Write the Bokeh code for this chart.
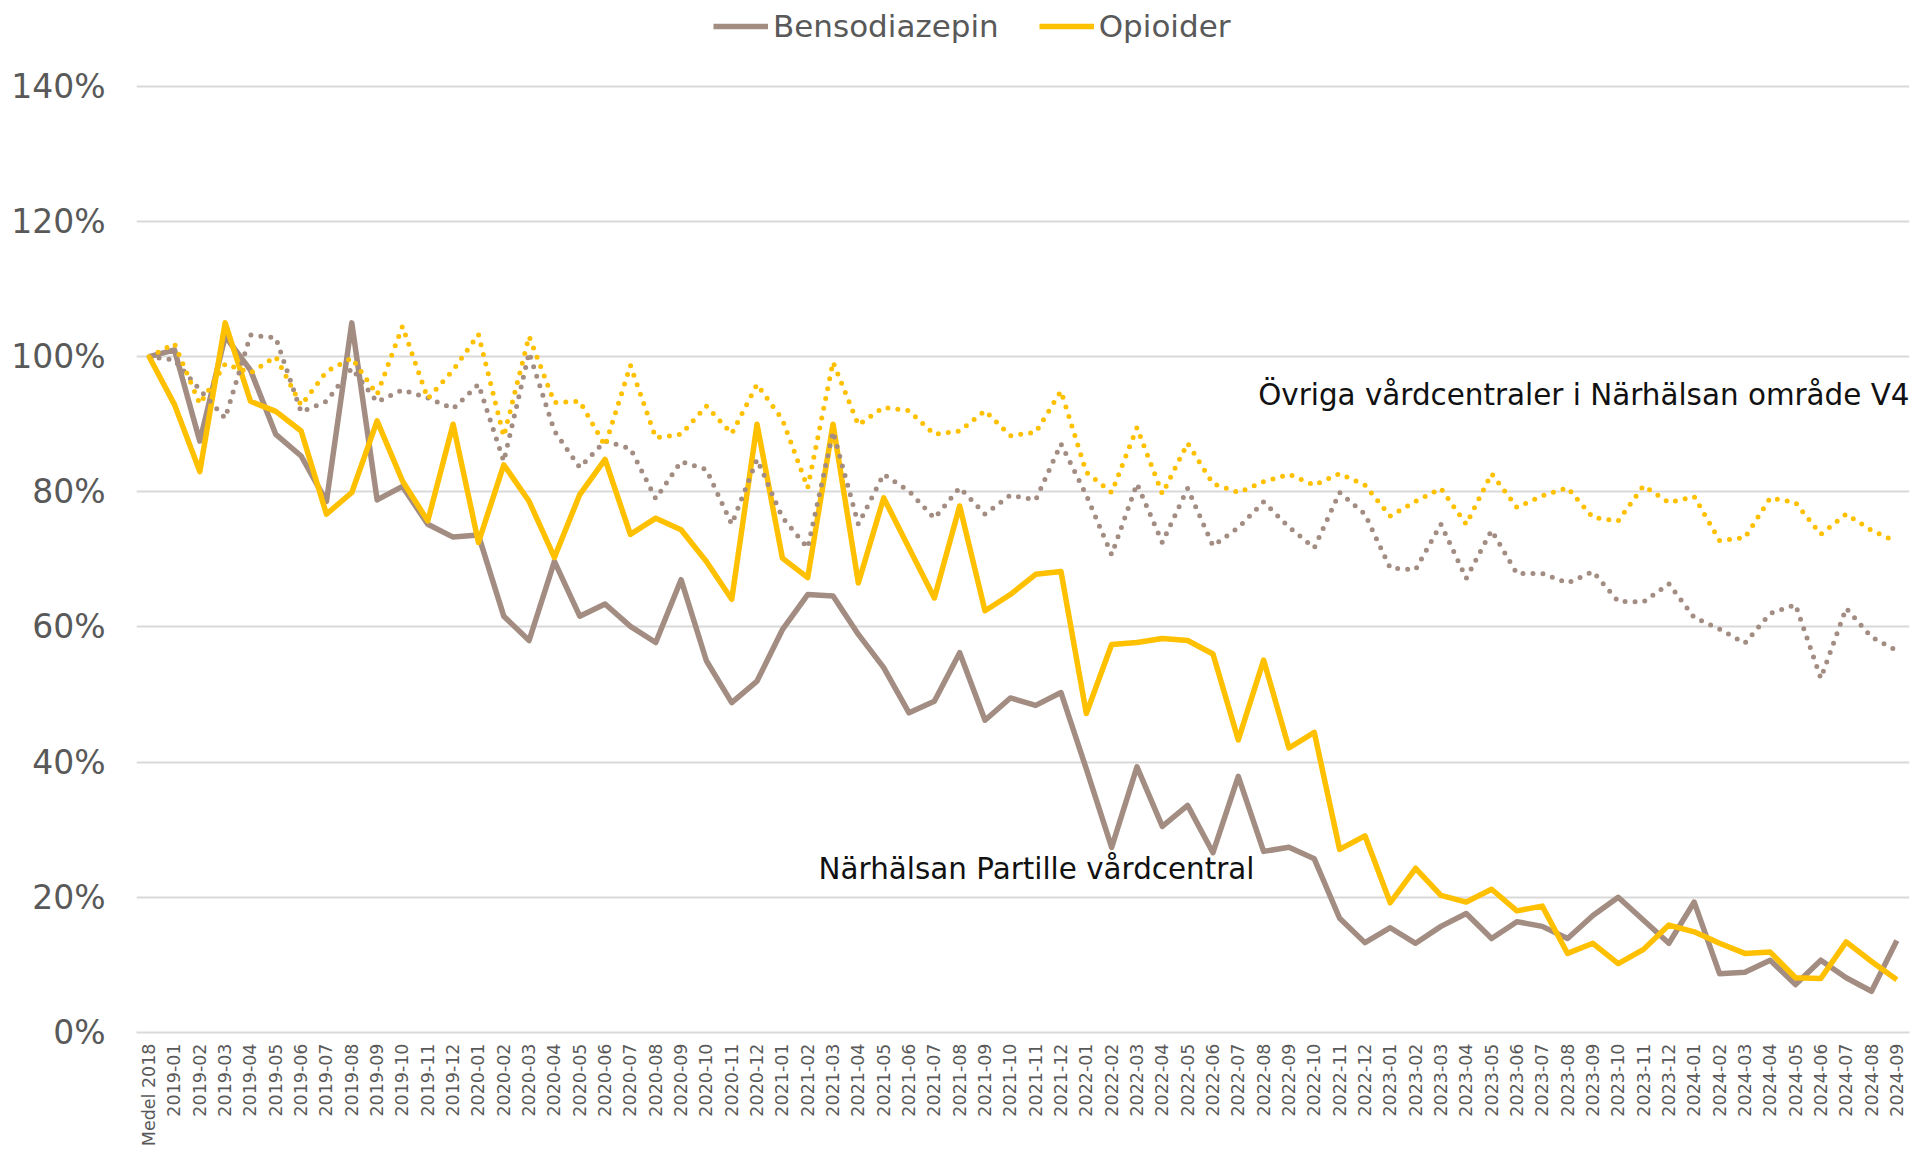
import math
from bokeh.plotting import figure
from bokeh.models import (FactorRange, Range1d, FixedTicker, PrintfTickFormatter,
                          Legend, LegendItem, Label, ColumnDataSource)
from bokeh.embed import file_html
from bokeh.resources import INLINE

# ---------------- data ----------------
categories = ["Medel 2018"] + [f"{y}-{m:02d}" for y in range(2019, 2025) for m in range(1, 13)
                               if not (y == 2024 and m > 9)]

partille_benso = [100, 101, 87.5, 103, 98, 88.5, 85.3, 78.6, 105, 78.8,
                  80.8, 75.2, 73.3, 73.6, 61.6, 58, 69.7, 61.6, 63.4, 60.1,
                  57.7, 67, 55, 48.8, 52, 59.6, 64.8, 64.6, 58.9, 54,
                  47.3, 49, 56.2, 46.2, 49.5, 48.4, 50.3, 39, 27.4, 39.3,
                  30.5, 33.6, 26.6, 37.9, 26.8, 27.4, 25.7, 16.9, 13.3, 15.5,
                  13.2, 15.7, 17.6, 13.9, 16.4, 15.7, 13.9, 17.3, 20, 16.6,
                  13.2, 19.3, 8.7, 8.9, 10.7, 7.1, 10.7, 8.1, 6.1, 13.6]

partille_opioid = [100, 92.9, 83, 105, 93.4, 91.9, 89, 76.7, 79.9, 90.5,
                   81.6, 75.7, 90, 72.5, 84, 78.6, 70.3, 79.6, 84.8, 73.7,
                   76.1, 74.4, 69.7, 64.1, 90, 70.2, 67.3, 90, 66.5, 79.1,
                   71.7, 64.3, 77.9, 62.4, 64.8, 67.8, 68.2, 47.2, 57.4, 57.7,
                   58.3, 58.0, 56, 43.3, 55.1, 42.1, 44.4, 27.1, 29.1, 19.2,
                   24.3, 20.3, 19.3, 21.2, 18.0, 18.7, 11.7, 13.2, 10.2, 12.3,
                   15.9, 14.9, 13.2, 11.7, 11.9, 8.1, 8.0, 13.4, 10.5, 7.8]

ovriga_benso = [100, 99.5, 95.1, 90.9, 103.2, 102.8, 91.8, 93.4, 98.3, 93.3,
                95.1, 93.9, 92.3, 95.9, 84.5, 100.6, 89, 83.6, 87.5, 86.4,
                79, 84.5, 83.3, 75.2, 84.8, 76.2, 71.7, 88.9, 75.2, 82.6,
                80.1, 76.1, 80.6, 76.7, 79.5, 78.8, 87.1, 79.5, 70.7, 81.2,
                72.5, 80.5, 72, 74.7, 78.5, 74.8, 71.7, 79.9, 76.7, 68.7,
                68.5, 75.2, 67.2, 74.3, 67.9, 67.9, 66.5, 68.2, 63.8, 63.7,
                66.4, 61.4, 59.7, 57.6, 62, 63.3, 52.4, 62.8, 58.5, 56.5]

ovriga_opioid = [100, 101.9, 93, 98.9, 97.6, 100, 92.8, 97.8, 99.8, 94.4,
                 104.5, 93.8, 98, 103.3, 88.2, 103, 93.2, 93.4, 86.8, 98.7,
                 88, 88.5, 92.7, 88.6, 95.9, 90.7, 80.6, 99.2, 89.9, 92.5,
                 92, 88.5, 89, 92, 88.3, 88.8, 94.9, 82.9, 79.9, 89.5,
                 79.7, 87.2, 81.2, 79.9, 81.5, 82.6, 81, 82.7, 81, 76.4,
                 78.6, 80.5, 75.2, 82.7, 77.7, 79.4, 80.6, 76.2, 75.7, 80.9,
                 78.4, 79.3, 72.8, 73.2, 79.1, 78.4, 73.7, 76.7, 74.3, 72.6]

y_ticks = [0, 20, 40, 60, 80, 100, 120, 140]

series_names = ["Bensodiazepin", "Opioider"]
label_local = "Närhälsan Partille vårdcentral"
label_other = "Övriga vårdcentraler i Närhälsan område V4"

BROWN = "#A38D82"
GOLD = "#FFC000"
GREY_TXT = "#595959"
FONT = "DejaVu Sans"

src = ColumnDataSource(dict(cat=categories, pb=partille_benso, po=partille_opioid,
                            ob=ovriga_benso, oo=ovriga_opioid))

# frame spans the whole top of the figure (legend lives inside it, above 140 %)
p = figure(x_range=FactorRange(factors=categories), y_range=Range1d(0, 152.7),
           width=1921, height=1154, output_backend="svg", toolbar_location=None,
           min_border_left=136, min_border_right=12, min_border_top=0, min_border_bottom=122)
p.outline_line_color = None
p.background_fill_color = "white"
p.border_fill_color = "white"

r_b = p.line("cat", "pb", source=src, line_color=BROWN, line_width=5.5, line_join="round")
r_o = p.line("cat", "po", source=src, line_color=GOLD, line_width=5.5, line_join="round")
p.line("cat", "ob", source=src, line_color=BROWN, line_width=5, line_dash="0 10", line_cap="round")
p.line("cat", "oo", source=src, line_color=GOLD, line_width=5, line_dash="0 10", line_cap="round")

# axes
p.xgrid.visible = False
p.ygrid.grid_line_color = "#d9d9d9"
p.ygrid.grid_line_width = 2
p.yaxis.ticker = FixedTicker(ticks=y_ticks)
p.yaxis.formatter = PrintfTickFormatter(format="%d%%")
p.yaxis.axis_line_color = None
p.yaxis.major_tick_line_color = None
p.yaxis.minor_tick_line_color = None
p.yaxis.major_tick_out = 0
p.yaxis.major_tick_in = 0
p.yaxis.major_label_standoff = 31
p.yaxis.major_label_text_font = FONT
p.yaxis.major_label_text_font_size = "33px"
p.yaxis.major_label_text_color = GREY_TXT

p.xaxis.axis_line_color = "#d9d9d9"
p.xaxis.axis_line_width = 2
p.xaxis.major_tick_line_color = None
p.xaxis.minor_tick_line_color = None
p.xaxis.major_tick_out = 0
p.xaxis.major_tick_in = 0
p.xaxis.major_label_orientation = math.pi / 2
p.xaxis.major_label_standoff = 11
p.xaxis.major_label_text_font = FONT
p.xaxis.major_label_text_font_size = "17.5px"
p.xaxis.major_label_text_color = GREY_TXT

legend = Legend(items=[LegendItem(label=series_names[0], renderers=[r_b]),
                       LegendItem(label=series_names[1], renderers=[r_o])],
                orientation="horizontal", location=(577, 988),
                glyph_width=55, glyph_height=36, label_height=36, label_standoff=5,
                spacing=40, padding=0, margin=0, border_line_color=None,
                background_fill_alpha=0, label_text_font=FONT,
                label_text_font_size="31px", label_text_color=GREY_TXT)
p.add_layout(legend)

p.add_layout(Label(x=26.93, y=24.2, text=label_local, text_font=FONT, text_font_size="29.4px",
                   text_color="#111111", text_align="left", text_baseline="alphabetic"))
p.add_layout(Label(x=70.0, y=94.3, text=label_other, text_font=FONT, text_font_size="29.4px",
                   text_color="#111111", text_align="right", text_baseline="alphabetic"))

open("out.html", "w").write(file_html(p, INLINE))
